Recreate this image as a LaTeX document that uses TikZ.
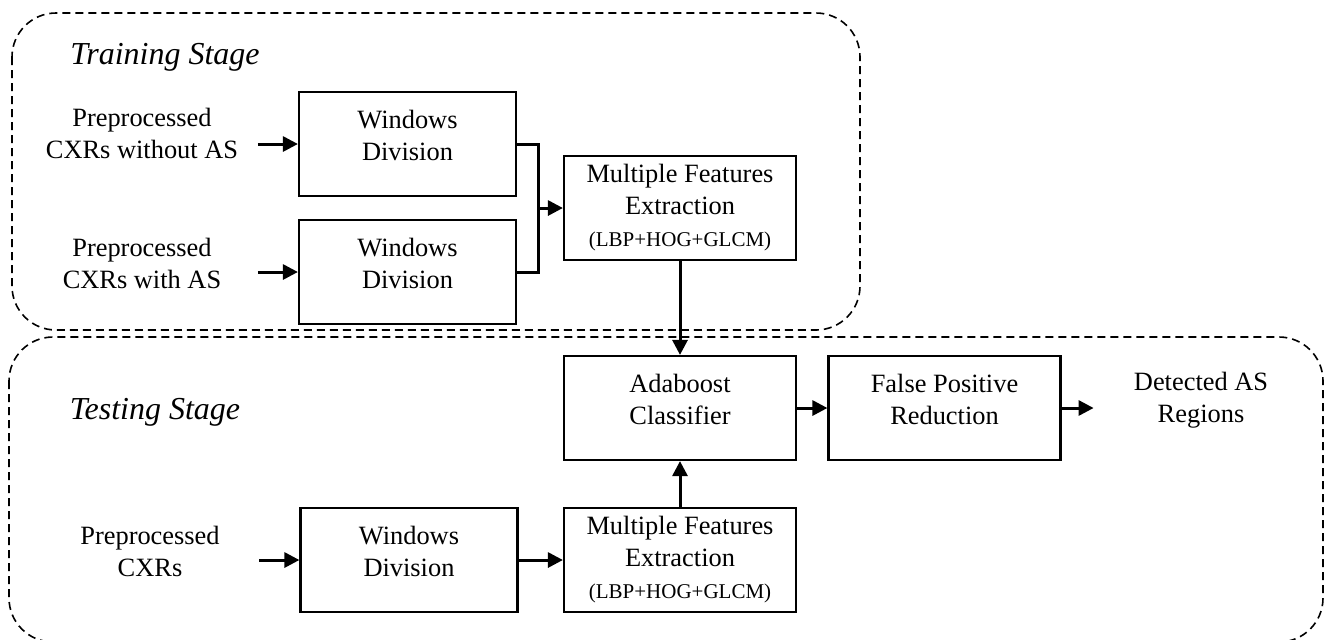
\documentclass[tikz,border=0pt]{standalone}
\usepackage{fontspec}
\setmainfont{Liberation Serif}
\usepackage{tikz}
\usetikzlibrary{arrows.meta,positioning,calc}
\newcommand{\sml}[1]{{\fontsize{10.5}{12}\selectfont #1}}
\tikzset{
  lbl/.style={align=center, inner sep=0pt, font=\fontsize{13.2}{16}\selectfont},
  box/.style={rectangle, draw=black, line width=1.1pt, minimum width=116pt, minimum height=52pt,
              align=center, inner sep=0pt, font=\fontsize{13.2}{16}\selectfont},
  wbox/.style={box, minimum width=108.5pt},
  boxtxt/.style={lbl, yshift=4.5pt},
  stagebox/.style={draw=black, line width=0.8pt, dash pattern=on 4pt off 2.5pt, rounded corners=22pt},
  stagelbl/.style={font=\fontsize{16}{18}\selectfont\itshape, inner sep=0pt},
  flow/.style={-{Triangle[length=7.5pt,width=7.5pt]}, line width=1.5pt},
  link/.style={line width=1.5pt},
}
\begin{document}
\begin{tikzpicture}[x=0.5pt, y=-0.5pt]
\useasboundingbox (0,0) rectangle (1327,639);
% stage regions
\draw[stagebox] (12,13) rectangle (860,330);
\draw[stagebox] (9,337) rectangle (1323,642);
\node[stagelbl] (trainlbl) at (165,57) {Training Stage};
\node[stagelbl] (testlbl) at (155,412) {Testing Stage};

% training stage
\node[lbl] (pre1) at (142,133) {Preprocessed\\CXRs without AS};
\node[lbl] (pre2) at (142,263) {Preprocessed\\CXRs with AS};
\node[wbox, label={[boxtxt]center:Windows\\Division}] (wdA) at (407.5,144) {};
\node[wbox, label={[boxtxt]center:Windows\\Division}] (wdB) at (407.5,272) {};
\node[box] (mfeA) at (680,208) {Multiple Features\\Extraction\\\sml{(LBP+HOG+GLCM)}};
\coordinate (join) at ([xshift=-12pt]mfeA.west);

% testing stage
\node[box, label={[boxtxt]center:Adaboost\\Classifier}] (ada) at (680,408) {};
\node[box, label={[boxtxt]center:False Positive\\Reduction}] (fpr) at (944.5,408) {};
\node[lbl] (det) at (1201,400) {Detected AS\\Regions};
\node[lbl] (pre3) at (150,551) {Preprocessed\\CXRs};
\node[wbox, label={[boxtxt]center:Windows\\Division}] (wdC) at (409,560) {};
\node[box] (mfeC) at (680,560) {Multiple Features\\Extraction\\\sml{(LBP+HOG+GLCM)}};

% connectors
\draw[flow] ([xshift=-20pt]wdA.west) -- (wdA.west);
\draw[flow] ([xshift=-20pt]wdB.west) -- (wdB.west);
\draw[link] (wdA.east) -| (join) |- (wdB.east);
\draw[flow] (join) -- (mfeA.west);
\draw[flow] (mfeA.south) -- (ada.north);
\draw[flow] ([xshift=-20pt]wdC.west) -- (wdC.west);
\draw[flow] (wdC.east) -- (mfeC.west);
\draw[flow] (mfeC.north) -- (ada.south);
\draw[flow] (ada.east) -- (fpr.west);
\draw[flow] (fpr.east) -- ++(16pt,0);
\end{tikzpicture}
\end{document}
